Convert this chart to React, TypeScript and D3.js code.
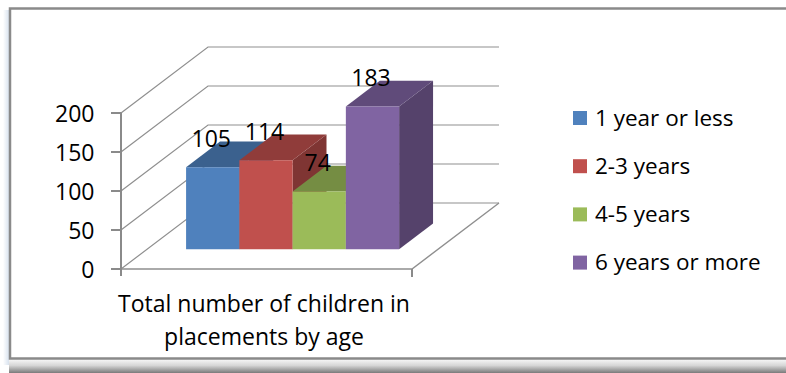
import React from "react";
import * as d3 from "d3";

const categories = ["Total number of children in placements by age"];
const categoryLines = ["Total number of children in", "placements by age"];
const seriesNames = ["1 year or less", "2-3 years", "4-5 years", "6 years or more"];
const seriesValues = [105, 114, 74, 183];
const seriesColors = ["#4F81BD", "#C0504D", "#9BBB59", "#8064A2"];
const yTicks = [0, 50, 100, 150, 200];

const W = 786;
const H = 373;
const X0 = 121; // front-left floor corner
const Y0 = 269;
const PW = 291; // front plane width
const DX = 87; // depth vector
const DY = 66;
const D1 = 0.3; // bar front depth fraction
const D2 = 0.69; // bar back depth fraction
const FONT = "'Open Sans', 'Liberation Sans', sans-serif";

export default function App() {
  const yS = d3.scaleLinear().domain([0, 200]).range([0, 156]);
  const catS = d3.scaleBand<string>().domain(categories).range([0, PW]).paddingInner(0).paddingOuter(0.183);
  const bx = catS(categories[0]) ?? 0;
  const serS = d3.scaleBand<string>().domain(seriesNames).range([bx, bx + catS.bandwidth()]).padding(0);

  const proj = (x: number, d: number, v: number): [number, number] => [
    X0 + x + d * DX,
    Y0 - yS(v) - d * DY,
  ];
  const line = d3.line();
  const poly = (pts: [number, number][]) => line(pts) + "Z";

  return (
    <svg width={W} height={H} style={{ position: "absolute", left: 0, top: 0, background: "#fff" }}>
      <defs>
        <linearGradient id="shadowB" x1="0" y1="0" x2="0" y2="1">
          <stop offset="0" stopColor="#ffffff" />
          <stop offset="0.5" stopColor="#d6d6d6" />
          <stop offset="1" stopColor="#7a7a7a" />
        </linearGradient>
        <linearGradient id="shadowL" x1="0" y1="0" x2="1" y2="0">
          <stop offset="0" stopColor="#ffffff" />
          <stop offset="1" stopColor="#d8e2ee" />
        </linearGradient>
      </defs>
      {/* frame */}
      <rect x={3} y={10} width={6} height={355} fill="url(#shadowL)" />
      <rect x={9} y={358} width={777} height={15} fill="url(#shadowB)" />
      <rect x={10} y={8.5} width={790} height={350} fill="#fff" stroke="#8a8a8a" strokeWidth={2.5} />

      {/* gridlines: left wall + back wall */}
      {yTicks.map((t) => (
        <path
          key={"g" + t}
          d={line([proj(0, 0, t), proj(0, 1, t), proj(PW, 1, t)]) ?? ""}
          fill="none"
          stroke="#8f8f8f"
          strokeWidth={1.2}
        />
      ))}
      {/* floor */}
      <path
        d={line([proj(0, 0, 0), proj(PW, 0, 0), proj(PW, 1, 0)]) ?? ""}
        fill="none"
        stroke="#8f8f8f"
        strokeWidth={1.4}
      />
      {/* axis */}
      <line x1={X0} x2={X0} y1={Y0 + 7} y2={proj(0, 0, 200)[1]} stroke="#8a8a8a" strokeWidth={2} />
      <line x1={X0 + PW} x2={X0 + PW} y1={Y0} y2={Y0 + 8} stroke="#8a8a8a" strokeWidth={2} />
      {yTicks.map((t) => {
        const [, y] = proj(0, 0, t);
        return (
          <g key={"t" + t}>
            <line x1={X0 - 10} x2={X0} y1={y} y2={y} stroke="#8a8a8a" strokeWidth={2} />
            <text x={94.5} y={y + 8.5} textAnchor="end" fontFamily={FONT} fontSize={23} fill="#000">
              {t}
            </text>
          </g>
        );
      })}

      {/* bars */}
      {seriesNames.map((s, i) => {
        const v = seriesValues[i];
        const x1 = serS(s) ?? 0;
        const x2 = x1 + serS.bandwidth();
        const c = d3.color(seriesColors[i])!;
        const top = c.darker(0.8).formatHex();
        const side = c.darker(1.15).formatHex();
        return (
          <g key={s}>
            <path d={poly([proj(x2, D1, 0), proj(x2, D2, 0), proj(x2, D2, v), proj(x2, D1, v)])} fill={side} />
            <path d={poly([proj(x1, D1, v), proj(x2, D1, v), proj(x2, D2, v), proj(x1, D2, v)])} fill={top} />
            <path d={poly([proj(x1, D1, 0), proj(x2, D1, 0), proj(x2, D1, v), proj(x1, D1, v)])} fill={seriesColors[i]} />
          </g>
        );
      })}
      {/* data labels */}
      {seriesNames.map((s, i) => {
        const v = seriesValues[i];
        const xc = (serS(s) ?? 0) + serS.bandwidth() / 2;
        const [, y] = proj(xc, D2, v);
        const [fx] = proj(xc, D1, v);
        return (
          <text key={"l" + s} x={fx - 1.5} y={y + 5.5} textAnchor="middle" fontFamily={FONT} fontSize={23} fill="#000">
            {v}
          </text>
        );
      })}

      {/* category label */}
      {categoryLines.map((l, i) => (
        <text
          key={"c" + i}
          x={264}
          y={311.5 + i * 33}
          textAnchor="middle"
          fontFamily={FONT}
          fontSize={23}
          fill="#000"
        >
          {l}
        </text>
      ))}

      {/* legend */}
      {seriesNames.map((s, i) => {
        const cy = 118 + i * 48.2;
        return (
          <g key={"lg" + s}>
            <rect x={573} y={cy - 7} width={14} height={14} fill={seriesColors[i]} />
            <text x={595} y={cy + 7.5} fontFamily={FONT} fontSize={22.5} fill="#000">
              {s}
            </text>
          </g>
        );
      })}
    </svg>
  );
}
